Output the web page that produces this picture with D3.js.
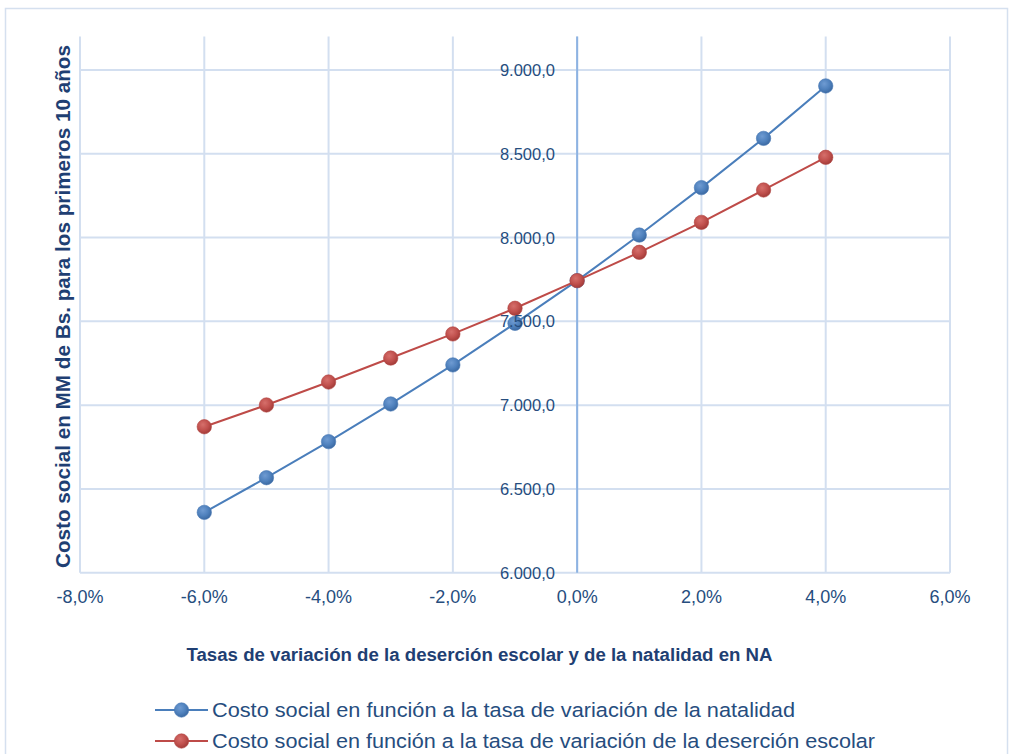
<!DOCTYPE html>
<html>
<head>
<meta charset="utf-8">
<script src="https://cdn.jsdelivr.net/npm/d3@7"></script>
<style>
  html, body { margin: 0; padding: 0; background: #ffffff; }
  svg { display: block; }
</style>
</head>
<body>
<svg id="chart" width="1010" height="754"></svg>
<script>
// Rates of variation (%) on the x axis
const rates = [-6, -5, -4, -3, -2, -1, 0, 1, 2, 3, 4];
// Social cost (MM Bs.) as a function of the birth-rate variation
const costNatalidad = [6360, 6567, 6782, 7007, 7240, 7488, 7743, 8015, 8298, 8592, 8905];
// Social cost (MM Bs.) as a function of the school drop-out variation
const costDesercion = [6871, 7001, 7138, 7281, 7425, 7578, 7743, 7912, 8091, 8284, 8479];

const xTicks = [-8, -6, -4, -2, 0, 2, 4, 6];
const yTicks = [6000, 6500, 7000, 7500, 8000, 8500, 9000];

const seriesNames = [
  "Costo social en función a la tasa de variación de la natalidad",
  "Costo social en función a la tasa de variación de la deserción escolar"
];
const yTitle = "Costo social en MM de Bs. para los primeros 10 años";
const xTitle = "Tasas de variación de la deserción escolar y de la natalidad en NA";

const svg = d3.select("#chart");
const textColor = "#264d7e";
const gridColor = "#d3dff0";

// chart frame
svg.append("rect")
  .attr("x", 5.5).attr("y", 8.5).attr("width", 1002).attr("height", 760)
  .attr("fill", "#fff").attr("stroke", "#d5e0ef").attr("stroke-width", 1.5);

const x = d3.scaleLinear().domain([-8, 6]).range([80, 950]);
const y = d3.scaleLinear().domain([6000, 9200]).range([572.7, 36.5]);

// marker gradients
const defs = svg.append("defs");
function grad(id, light, base, dark) {
  const g = defs.append("radialGradient").attr("id", id)
    .attr("cx", "40%").attr("cy", "35%").attr("r", "65%");
  g.append("stop").attr("offset", "0%").attr("stop-color", light);
  g.append("stop").attr("offset", "60%").attr("stop-color", base);
  g.append("stop").attr("offset", "100%").attr("stop-color", dark);
}
grad("gBlue", "#6f9bd2", "#4f81bd", "#3c6aa3");
grad("gRed", "#d66f6b", "#c0504d", "#a33c39");

// gridlines
const grid = svg.append("g");
grid.selectAll("line.v").data(xTicks).join("line")
  .attr("x1", d => x(d)).attr("x2", d => x(d))
  .attr("y1", y(9200)).attr("y2", y(6000))
  .attr("stroke", gridColor).attr("stroke-width", 2);
grid.selectAll("line.h").data(yTicks).join("line")
  .attr("x1", x(-8)).attr("x2", x(6))
  .attr("y1", d => y(d)).attr("y2", d => y(d))
  .attr("stroke", gridColor).attr("stroke-width", 2);

// vertical axis line at x = 0
svg.append("line")
  .attr("x1", x(0)).attr("x2", x(0)).attr("y1", y(9200)).attr("y2", y(6000))
  .attr("stroke", "#8db3e2").attr("stroke-width", 2);

// series
const series = [
  { vals: costNatalidad, color: "#4a7ebb", fill: "url(#gBlue)", stroke: "#4677b3" },
  { vals: costDesercion, color: "#be4b48", fill: "url(#gRed)", stroke: "#b2433f" }
];
const line = d3.line().x(d => x(d[0])).y(d => y(d[1]));
series.forEach(s => {
  const pts = rates.map((r, i) => [r, s.vals[i]]);
  svg.append("path").datum(pts)
    .attr("d", line).attr("fill", "none")
    .attr("stroke", s.color).attr("stroke-width", 2);
  svg.append("g").selectAll("circle").data(pts).join("circle")
    .attr("cx", d => x(d[0])).attr("cy", d => y(d[1])).attr("r", 7.2)
    .attr("fill", s.fill).attr("stroke", s.stroke).attr("stroke-width", 0.6);
});

// y tick labels
const fmtY = d => d3.format(",.1f")(d).replace(/,/g, "#").replace(".", ",").replace(/#/g, ".");
svg.append("g").selectAll("text").data(yTicks).join("text")
  .attr("x", 555).attr("y", d => y(d)).attr("dy", "0.36em")
  .attr("text-anchor", "end")
  .attr("font-family", "Liberation Sans, Arial, sans-serif").attr("font-size", 16.5)
  .attr("fill", textColor).text(fmtY);

// x tick labels
const fmtX = d => d3.format(".1f")(d).replace("−", "-").replace(".", ",") + "%";
svg.append("g").selectAll("text").data(xTicks).join("text")
  .attr("x", d => x(d)).attr("y", 603)
  .attr("text-anchor", "middle")
  .attr("font-family", "Liberation Sans, Arial, sans-serif").attr("font-size", 18)
  .attr("fill", textColor).text(fmtX);

// axis titles
svg.append("text")
  .attr("transform", "translate(69.5,306.5) rotate(-90)")
  .attr("text-anchor", "middle")
  .attr("font-family", "Liberation Sans, Arial, sans-serif").attr("font-weight", "bold")
  .attr("font-size", 19.5).attr("fill", "#1f3f73")
  .attr("textLength", 523).attr("lengthAdjust", "spacingAndGlyphs")
  .text(yTitle);

svg.append("text")
  .attr("x", 186.5).attr("y", 661)
  .attr("font-family", "Liberation Sans, Arial, sans-serif").attr("font-weight", "bold")
  .attr("font-size", 17.5).attr("fill", "#1f3f73")
  .attr("textLength", 586).attr("lengthAdjust", "spacingAndGlyphs")
  .text(xTitle);

// legend
const legendRows = [
  { y: 710, w: 583 },
  { y: 741, w: 663 }
];
series.forEach((s, i) => {
  const g = svg.append("g").attr("transform", `translate(0,${legendRows[i].y})`);
  g.append("line").attr("x1", 155).attr("x2", 208).attr("y1", 0).attr("y2", 0)
    .attr("stroke", s.color).attr("stroke-width", 2);
  g.append("circle").attr("cx", 181.5).attr("cy", 0).attr("r", 7.2)
    .attr("fill", s.fill).attr("stroke", s.stroke).attr("stroke-width", 0.6);
  g.append("text").attr("x", 212).attr("y", 0).attr("dy", "0.36em")
    .attr("font-family", "Liberation Sans, Arial, sans-serif").attr("font-size", 20.5)
    .attr("fill", textColor)
    .attr("textLength", legendRows[i].w).attr("lengthAdjust", "spacingAndGlyphs")
    .text(seriesNames[i]);
});
</script>
</body>
</html>
